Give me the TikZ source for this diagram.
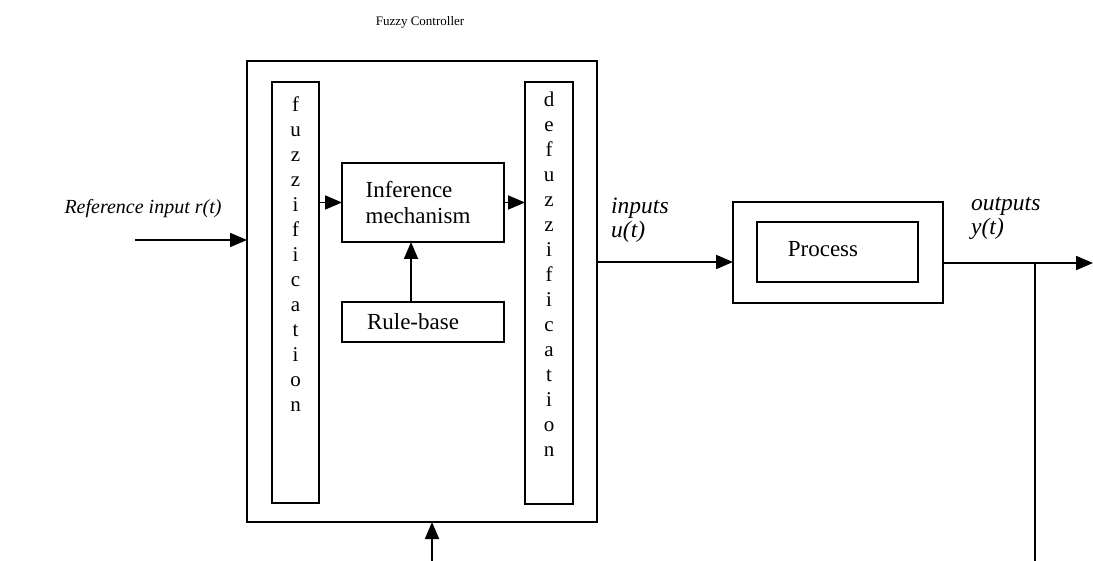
\documentclass[tikz,border=0pt]{standalone}
\usepackage{fontspec}
\setmainfont{Liberation Serif}
\usetikzlibrary{arrows.meta,calc}
\begin{document}
\begin{tikzpicture}[x=1pt,y=-1pt,
  box/.style={draw,line width=1.8pt,inner sep=0pt,outer sep=0pt},
  arr/.style={line width=1.8pt,-{Triangle[length=17pt,width=14pt]}},
  ln/.style={line width=1.8pt},
  lbl/.style={font=\fontsize{20}{24}\selectfont\itshape,inner sep=0pt,align=left},
  stack/.style={font=\fontsize{21}{25}\selectfont,align=center,inner sep=0pt},
  txt/.style={font=\fontsize{23}{26}\selectfont,inner sep=0pt}]
\useasboundingbox (0,0) rectangle (1093,561);
% boxes
\node[box,minimum width=350pt,minimum height=461pt] (fc) at (422,291.5) {};
\node[box,minimum width=47pt,minimum height=421pt] (fuzz) at (295.5,292.5) {};
\node[box,minimum width=48pt,minimum height=422pt] (defuzz) at (549,293) {};
\node[box,minimum width=162pt,minimum height=79pt] (inf) at (423,202.5) {};
\node[box,minimum width=162pt,minimum height=40pt] (rule) at (423,322) {};
\node[box,minimum width=210pt,minimum height=101pt] (procO) at (838,252.5) {};
\node[box,minimum width=161pt,minimum height=60pt] (procI) at (837.5,252) {};
% texts
\node[font=\fontsize{13}{15}\selectfont,inner sep=0pt] (title) at (420,22) {Fuzzy Controller};
\node[stack] (fuzztxt) at (295.5,254) {f\\u\\z\\z\\i\\f\\i\\c\\a\\t\\i\\o\\n};
\node[stack] (defuzztxt) at (549,274) {d\\e\\f\\u\\z\\z\\i\\f\\i\\c\\a\\t\\i\\o\\n};
\node[txt,align=left] (inftxt) at (418,202.5) {Inference\\mechanism};
\node[txt] (ruletxt) at (413,322) {Rule-base};
\node[txt] (proctxt) at (823,249) {Process};
\node[lbl] (reflbl) at (143,209) {Reference input r(t)};
\node[lbl,font=\fontsize{23.5}{24}\selectfont\itshape,anchor=west] (inlbl) at (611,220) {inputs\\u(t)};
\node[lbl,font=\fontsize{23.5}{24}\selectfont\itshape,anchor=west] (outlbl) at (971,218) {outputs\\y(t)};
% coordinates
\coordinate (rin) at (135,240);
\coordinate (uy) at (0,262);
\coordinate (yy) at (0,263);
\coordinate (yout) at (1093,263);
\coordinate (br) at (1035,263);
\coordinate (brend) at (1035,561);
\coordinate (fb) at (432,561);
% connectors
\draw[arr] (rin) -- (rin -| fc.west);
\draw[arr] (fuzz.east |- inf.west) -- (inf.west);
\draw[arr] (inf.east) -- (inf.east -| defuzz.west);
\draw[arr] ($(rule.north)+(-12,0)$) -- ($(inf.south)+(-12,0)$);
\draw[arr] (fc.east |- uy) -- (procO.west |- uy);
\draw[arr] (procO.east |- yy) -- (yout);
\draw[ln] (br) -- (brend);
\draw[arr] (fb) -- (fb |- fc.south);
\end{tikzpicture}
\end{document}
